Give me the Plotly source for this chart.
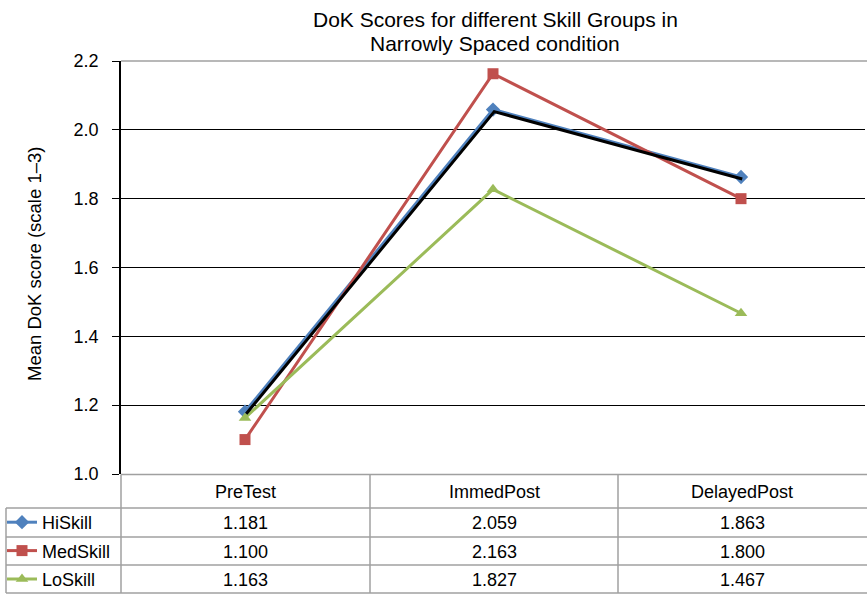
import plotly.graph_objects as go

categories = ["PreTest", "ImmedPost", "DelayedPost"]
series_names = ["HiSkill", "MedSkill", "LoSkill"]
hi_skill = [1.181, 2.059, 1.863]
med_skill = [1.100, 2.163, 1.800]
lo_skill = [1.163, 1.827, 1.467]
y_ticks = [1.0, 1.2, 1.4, 1.6, 1.8, 2.0, 2.2]

W, H = 867, 595
FONT = "Liberation Sans, Arial, sans-serif"

def px(x):
    return x / W

def py(y):
    return 1 - y / H

colors = ["#4F81BD", "#C0504D", "#9BBB59"]
symbols = ["diamond", "square", "triangle-up"]
msizes = [11, 11, 11]
values = [hi_skill, med_skill, lo_skill]

fig = go.Figure()

# shadow of HiSkill line (drawn on slightly offset overlay axes)
fig.add_trace(go.Scatter(x=categories, y=hi_skill, mode="lines",
                         line=dict(color="black", width=3),
                         xaxis="x2", yaxis="y2", showlegend=False, hoverinfo="skip"))

for name, vals, c, s, ms in zip(series_names, values, colors, symbols, msizes):
    fig.add_trace(go.Scatter(x=categories, y=vals, mode="lines+markers", name=name,
                             legendgroup=name,
                             line=dict(color=c, width=3),
                             marker=dict(color=c, symbol=s, size=ms)))

x_dom = [px(121), px(865)]
y_dom = [py(474), py(61)]

shapes = []
grey = "#A0A0A0"
def hline(x0, x1, y, color=grey, w=1.5):
    shapes.append(dict(type="line", xref="paper", yref="paper", x0=px(x0), x1=px(x1),
                       y0=py(y), y1=py(y), line=dict(color=color, width=w), layer="above"))
def vline(x, y0, y1, color=grey, w=1.5):
    shapes.append(dict(type="line", xref="paper", yref="paper", x0=px(x), x1=px(x),
                       y0=py(y0), y1=py(y1), line=dict(color=color, width=w), layer="above"))

# top border of plot (grey)
hline(121, 867, 61)
# table
hline(121, 867, 474.5)
for yy in [508, 537, 565, 593]:
    hline(6, 867, yy)
vline(121, 474.5, 593)
vline(370, 474.5, 593)
vline(618, 474.5, 593)
vline(6, 508, 593)

def label(text, x, y, size=18, angle=0):
    return dict(text=text, x=px(x), y=py(y), xref="paper", yref="paper",
                xanchor="center", yanchor="middle", showarrow=False, textangle=angle,
                font=dict(size=size, color="black", family=FONT))

annotations = []
col_centers = [245, 494, 742]
for cat, xc in zip(categories, col_centers):
    annotations.append(label(cat, xc, 492))
row_centers = [523, 551.5, 579.5]
for vals, yc in zip(values, row_centers):
    for v, xc in zip(vals, col_centers):
        annotations.append(label(f"{v:.3f}", xc, yc))

# title (two lines)
annotations.append(label("DoK Scores for different Skill Groups in", 495, 20, size=21))
annotations.append(label("Narrowly Spaced condition", 495, 44, size=21))
# y-axis title
annotations.append(label("Mean DoK score (scale 1–3)", 34, 264, size=18.5, angle=-90))

fig.update_layout(
    width=W, height=H,
    margin=dict(l=0, r=0, t=0, b=0, autoexpand=False),
    paper_bgcolor="white", plot_bgcolor="white",
    font=dict(family=FONT, size=18, color="black"),
    xaxis=dict(domain=x_dom, range=[-0.5, 2.5], showticklabels=False, showgrid=False,
               zeroline=False, showline=False, ticks=""),
    yaxis=dict(domain=y_dom, range=[1.0, 2.2], tickvals=y_ticks, tickformat=".1f",
               showgrid=True, gridcolor="black", gridwidth=1.3, zeroline=False,
               showline=True, linecolor="black", linewidth=1.5,
               ticks="outside", ticklen=7, tickcolor="black", tickwidth=1.3,
               ticklabelstandoff=10, tickfont=dict(size=18, color="black", family=FONT)),
    xaxis2=dict(domain=x_dom, range=[-0.505, 2.495], overlaying="x", visible=False),
    yaxis2=dict(domain=y_dom, range=[1.006, 2.206], overlaying="y", visible=False),
    showlegend=True,
    legend=dict(x=px(2), y=py(504), xanchor="left", yanchor="top", xref="paper", yref="paper",
                traceorder="grouped", tracegroupgap=2, bgcolor="rgba(0,0,0,0)",
                font=dict(size=18, color="black", family=FONT), itemwidth=30),
    shapes=shapes,
    annotations=annotations,
)

fig.write_html("out.html", config={"displayModeBar": False},
               post_script="document.body.style.margin='0px';document.body.style.overflow='hidden';")
